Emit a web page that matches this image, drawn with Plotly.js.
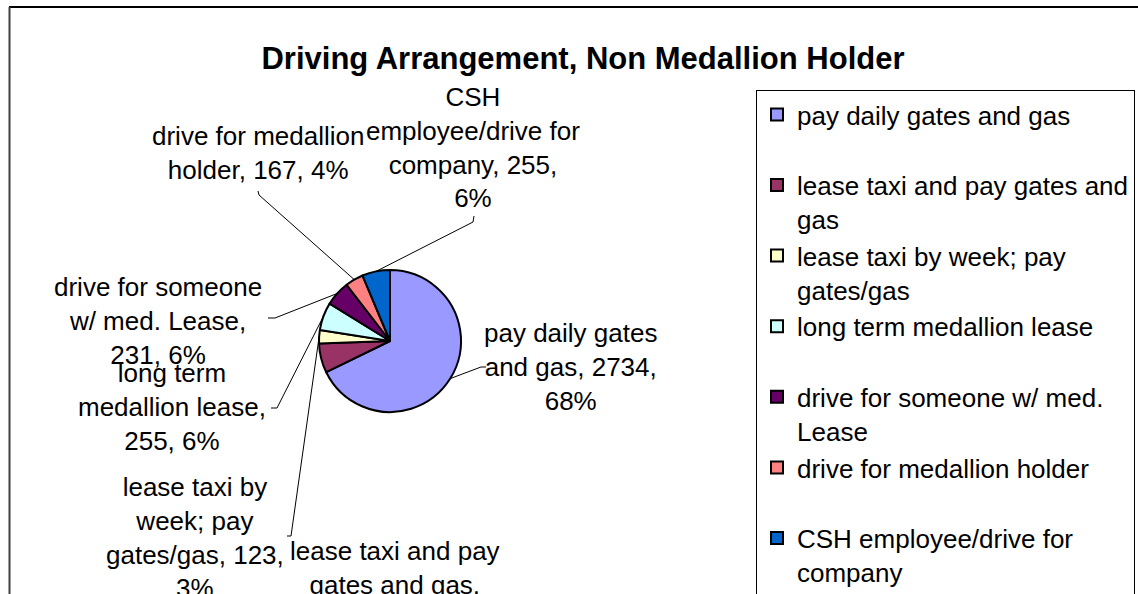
<!DOCTYPE html>
<html>
<head>
<meta charset="utf-8">
<script src="https://cdn.plot.ly/plotly-3.0.1.min.js"></script>
<style>html,body{margin:0;padding:0;background:#fff;}#chart{width:1138px;height:594px;}</style>
</head>
<body>
<div id="chart"></div>
<script>
// ---- data ----
const categories = [
  "pay daily gates and gas",
  "lease taxi and pay gates and gas",
  "lease taxi by week; pay gates/gas",
  "long term medallion lease",
  "drive for someone w/ med. Lease",
  "drive for medallion holder",
  "CSH employee/drive for company"
];
const counts = [2734, 270, 123, 255, 231, 167, 255];
const colors = ["#9999FF", "#993366", "#FFFFCC", "#CCFFFF", "#660066", "#FF8080", "#0066CC"];
const chartTitle = "Driving Arrangement, Non Medallion Holder";

// ---- layout helpers ----
const W = 1138, H = 594;
const FONT = "Liberation Sans, Arial, sans-serif";
const pie = {cx: 390, cy: 341, r: 71};
// words per line for wrapped data labels and legend entries
const labelWrap = [[3,3,1],[4,3,2],[3,2,2,1],[2,2,2],[3,3,2],[3,3],[1,2,2,1]];
const legendWrap = [[5],[6,1],[5,1],[4],[5,1],[4],[3,1]];
// label block centres (px) and leader-line anchor / tick end (px)
const labelPos = [[570,367],[395,585],[195,537],[172,407],[158,321],[258,153],[473,147]];
const leaderEnd = [[[481,367],[486,367]], null, [[291,536],[287,536]], [[277,408],[271,408]],
                   [[275,318],[268,318]], [[259,195],[258,191]], [[473,222],[474,216]]];

function wrap(text, counts) {
  const w = text.split(" ");
  const out = []; let i = 0;
  counts.forEach(c => { out.push(w.slice(i, i + c).join(" ")); i += c; });
  if (i < w.length) out[out.length - 1] += " " + w.slice(i).join(" ");
  return out;
}
const px = x => x / W;
const py = y => 1 - y / H;

const total = counts.reduce((a, b) => a + b, 0);
const pcts = counts.map(v => Math.round(v / total * 100));

const legendNames = categories.map((c, i) => {
  const lines = wrap(c, legendWrap[i]);
  if (lines.length < 2) lines.push("\u00a0");
  return lines.join("<br>");
});

const trace = {
  type: "pie",
  labels: legendNames,
  values: counts,
  sort: false,
  direction: "clockwise",
  rotation: 0,
  textinfo: "none",
  hoverinfo: "skip",
  marker: {colors: colors, line: {color: "#000000", width: 2}},
  domain: {x: [px(pie.cx - pie.r), px(pie.cx + pie.r)], y: [py(pie.cy + pie.r), py(pie.cy - pie.r)]}
};

const annotations = [];
const shapes = [];
let cum = 0;
counts.forEach((v, i) => {
  const mid = (cum + v / 2) / total * 2 * Math.PI;
  cum += v;
  const ex = pie.cx + pie.r * Math.sin(mid);
  const ey = pie.cy - pie.r * Math.cos(mid);
  const full = categories[i] + ", " + v + ", " + pcts[i] + "%";
  annotations.push({
    xref: "paper", yref: "paper", x: px(labelPos[i][0]), y: py(labelPos[i][1]),
    xanchor: "center", yanchor: "middle", align: "center", showarrow: false,
    text: wrap(full, labelWrap[i]).join("<br>"),
    font: {family: FONT, size: 26, color: "#000"}
  });
  if (leaderEnd[i]) {
    const a = leaderEnd[i][0], b = leaderEnd[i][1];
    shapes.push({
      type: "path", xref: "paper", yref: "paper",
      path: `M${px(ex)},${py(ey)} L${px(a[0])},${py(a[1])} L${px(b[0])},${py(b[1])}`,
      line: {color: "#000", width: 1}
    });
  }
});
// chart-area frame
shapes.push({type: "line", xref: "paper", yref: "paper", x0: px(9), x1: 1, y0: py(7), y1: py(7), line: {color: "#000", width: 2}});
shapes.push({type: "line", xref: "paper", yref: "paper", x0: px(9.5), x1: px(9.5), y0: py(7), y1: 0, line: {color: "#404040", width: 2}});

const layout = {
  width: W, height: H,
  margin: {l: 0, r: 0, t: 0, b: 0, autoexpand: false},
  paper_bgcolor: "#fff",
  title: {text: "<b>" + chartTitle + "</b>", x: px(583), xanchor: "center", xref: "container",
          y: py(58), yanchor: "middle", yref: "container",
          font: {family: FONT, size: 31, color: "#000"}},
  showlegend: true,
  legend: {x: px(756), xanchor: "left", xref: "container", y: py(90), yanchor: "top", yref: "container",
           valign: "top", bordercolor: "#000", borderwidth: 1, bgcolor: "#fff", maxheight: 800,
           font: {family: FONT, size: 26, color: "#000"}},
  annotations: annotations,
  shapes: shapes
};

Plotly.newPlot("chart", [trace], layout, {staticPlot: true, displayModeBar: false});
</script>
</body>
</html>
